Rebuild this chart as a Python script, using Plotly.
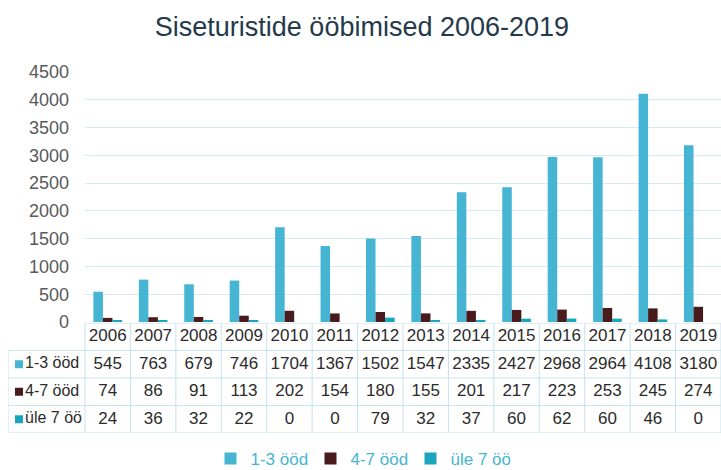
import plotly.graph_objects as go

years = ["2006", "2007", "2008", "2009", "2010", "2011", "2012",
         "2013", "2014", "2015", "2016", "2017", "2018", "2019"]
series_names = ["1-3 ööd", "4-7 ööd", "üle 7 öö"]
nights_1_3 = [545, 763, 679, 746, 1704, 1367, 1502, 1547, 2335, 2427, 2968, 2964, 4108, 3180]
nights_4_7 = [74, 86, 91, 113, 202, 154, 180, 155, 201, 217, 223, 253, 245, 274]
nights_over_7 = [24, 36, 32, 22, 0, 0, 79, 32, 37, 60, 62, 60, 46, 0]
y_ticks = [0, 500, 1000, 1500, 2000, 2500, 3000, 3500, 4000, 4500]

colors = ["#46b5d3", "#4a1b1d", "#19a6bd"]
series = [nights_1_3, nights_4_7, nights_over_7]

W, H = 721, 470
FONT = "Liberation Sans, Arial, sans-serif"
BORDER = "#c6e3ee"
TXT = "#2b2b2b"

fig = go.Figure()
for name, vals, col in zip(series_names, series, colors):
    fig.add_trace(go.Bar(x=years, y=vals, name=name, marker_color=col,
                         marker_line_width=0, xaxis="x", yaxis="y"))

# ---- data table drawn on a second axis pair ----
left_px, plot_left_px, right_px = 8, 85, W
n = len(years)
col_w = (right_px - plot_left_px) / n           # pixels per year column
label_w = (plot_left_px - left_px) / col_w       # label column width in column units
x_left = -0.5 - label_w
x_right = n - 0.5
idx = list(range(n))
n_rows = 1 + len(series)

# header row (years)
fig.add_trace(go.Scatter(x=idx, y=[0] * n, mode="text", text=years,
                         textfont=dict(family=FONT, size=17, color=TXT),
                         textposition="middle center", showlegend=False,
                         hoverinfo="skip", xaxis="x2", yaxis="y2"))
# value rows
for r, (vals, col, name) in enumerate(zip(series, colors, series_names), start=1):
    fig.add_trace(go.Scatter(x=idx, y=[r] * n, mode="text", text=[str(v) for v in vals],
                             textfont=dict(family=FONT, size=17, color=TXT),
                             textposition="middle center", showlegend=False,
                             hoverinfo="skip", xaxis="x2", yaxis="y2"))
    # legend key square + series label in the first column
    fig.add_trace(go.Scatter(x=[x_left + 11 / col_w], y=[r], mode="markers+text",
                             marker=dict(symbol="square", size=8, color=col),
                             text=[name], textposition="middle right",
                             textfont=dict(family=FONT, size=16, color=TXT),
                             showlegend=False, hoverinfo="skip", xaxis="x2", yaxis="y2"))

# table borders
line = dict(color=BORDER, width=1)
shapes = []
shapes.append(dict(type="line", xref="x2", yref="y2", x0=-0.5, x1=x_right, y0=-0.5, y1=-0.5, line=line))
for r in range(1, n_rows + 1):
    shapes.append(dict(type="line", xref="x2", yref="y2", x0=x_left, x1=x_right,
                       y0=r - 0.5, y1=r - 0.5, line=line))
shapes.append(dict(type="line", xref="x2", yref="y2", x0=x_left, x1=x_left,
                   y0=0.5, y1=n_rows - 0.5, line=line))
for c in range(n + 1):
    shapes.append(dict(type="line", xref="x2", yref="y2", x0=c - 0.5, x1=c - 0.5,
                       y0=-0.5, y1=n_rows - 0.5, line=line))

fig.update_layout(
    width=W, height=H,
    margin=dict(l=0, r=0, t=0, b=0, autoexpand=False),
    paper_bgcolor="white", plot_bgcolor="white",
    font=dict(family=FONT),
    shapes=shapes,
    title=dict(text="Siseturistide ööbimised 2006-2019", x=0.502, xanchor="center",
               y=1 - 27 / H, yanchor="middle",
               font=dict(family=FONT, size=27, color="#243a4c")),
    barmode="group", bargap=0.37, bargroupgap=0,
    xaxis=dict(domain=[plot_left_px / W, right_px / W], showticklabels=False, showgrid=False,
               zeroline=False, showline=False, ticks=""),
    yaxis=dict(domain=[1 - 322 / H, 1 - 72 / H], range=[0, 4500],
               tickvals=y_ticks, showgrid=True, gridcolor="#d2ebf4", gridwidth=1,
               zeroline=False, showline=False, ticks="", ticklabelstandoff=15,
               tickfont=dict(family=FONT, size=18, color="#595959")),
    xaxis2=dict(domain=[left_px / W, right_px / W], range=[x_left, x_right],
                visible=False, anchor="y2"),
    yaxis2=dict(domain=[1 - 433 / H, 1 - 323 / H], range=[n_rows - 0.5, -0.5],
                visible=False, anchor="x2"),
    legend=dict(orientation="h", x=0.5, xanchor="center", y=1 - 459 / H, yanchor="middle",
                font=dict(family=FONT, size=17, color="#46b5d3"),
                itemwidth=30, entrywidth=55, traceorder="normal", bgcolor="rgba(0,0,0,0)"),
)

fig.write_html("out.html", config={"displayModeBar": False},
               post_script="document.body.style.margin='0';document.body.style.overflow='hidden';")
